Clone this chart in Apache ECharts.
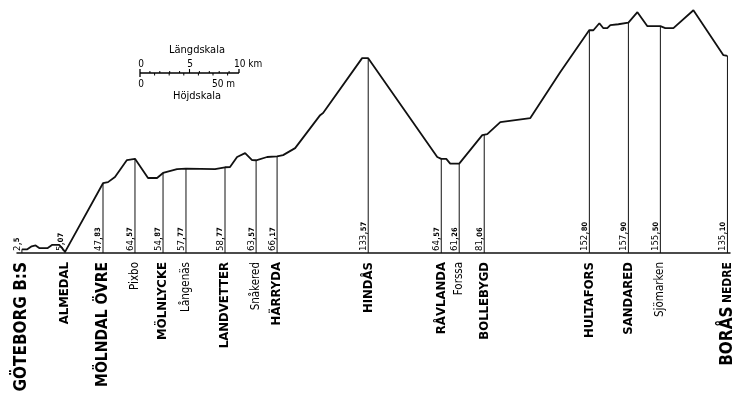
<!DOCTYPE html>
<html><head><meta charset="utf-8">
<script src="https://cdn.jsdelivr.net/npm/echarts@6/dist/echarts.min.js"></script>
<style>html,body{margin:0;padding:0;background:#fff}#c{width:750px;height:398px}</style>
</head><body><div id="c"></div>
<script>
// Stations: name, distance (km from Göteborg), elevation (m)
var stationNames = ['GÖTEBORG B:S','ALMEDAL','MÖLNDAL ÖVRE','Pixbo','MÖLNLYCKE','Långenäs','LANDVETTER','Snåkered','HÄRRYDA','HINDÅS','RÅVLANDA','Forssa','BOLLEBYGD','HULTAFORS','SANDARED','Sjömarken','BORÅS NEDRE'];
var stationKm = [0, 4.4, 8.27, 11.53, 14.39, 16.73, 20.71, 23.88, 26.02, 35.31, 42.76, 44.59, 47.14, 57.86, 61.84, 65.1, 71.94];
var stationElev = [2.5, 5.07, 47.83, 64.57, 54.87, 57.77, 58.77, 63.57, 66.17, 133.57, 64.57, 61.26, 81.06, 152.80, 157.90, 155.50, 135.10];
var stationLabels = ['2,5','5,07','47,83','64,57','54,87','57,77','58,77','63,57','66,17','133,57','64,57','61,26','81,06','152,80','157,90','155,50','135,10'];
var stationStyle = ['goteborg','main','big','small','main','small','main','small','main','main','main','small','main','main','main','small','boras'];

// Track profile: distance (km), elevation (m)
var profileKm = [0, 0.55, 1.0, 1.4, 1.8, 2.6, 3.1, 3.8, 4.1, 4.4,
  8.27, 8.78, 9.49, 10.71, 11.53, 12.86, 13.78, 14.39, 15.82, 16.73, 19.69, 20.71, 21.22, 21.94, 22.76, 23.47, 23.88, 25.0, 26.02, 26.63, 27.86, 30.41, 30.71, 34.69, 35.31,
  42.35, 42.76, 43.27, 43.67, 44.59, 46.94, 47.14, 47.45, 48.78, 51.84, 54.9, 57.86, 58.27, 58.88, 59.29, 59.69, 60.0, 60.82, 61.84, 62.76, 63.78, 65.1, 65.6, 66.43, 68.47, 71.53, 71.94];
var profileElev = [2.5, 2.5, 4.6, 5.2, 3.3, 3.3, 5.6, 5.6, 3.3, 0.8,
  47.83, 48.6, 52.1, 63.7, 64.57, 51.4, 51.4, 54.87, 57.5, 57.77, 57.5, 58.77, 58.9, 65.8, 68.5, 63.7, 63.57, 65.8, 66.17, 67.1, 71.9, 94.5, 95.9, 133.57, 133.57,
  65.8, 64.57, 64.5, 61.26, 61.26, 80.8, 81.06, 81.5, 89.7, 92.5, 124.0, 152.8, 152.7, 157.5, 154.1, 154.1, 156.2, 156.8, 157.9, 165.1, 155.5, 155.5, 154.1, 154.1, 166.4, 135.6, 135.1];

var profile = profileKm.map(function(k,i){return [k, profileElev[i]];});
function profileAt(k){
  for (var i=1;i<profileKm.length;i++){
    if (k<=profileKm[i]){
      var a=profileKm[i-1], b=profileKm[i];
      var t = b===a?1:(k-a)/(b-a);
      return profileElev[i-1]+t*(profileElev[i]-profileElev[i-1]);
    }
  }
  return profileElev[profileElev.length-1];
}
var stationData = stationKm.map(function(k,i){return [k, profileAt(k), i];});

var FONT = '"DejaVu Sans Condensed","DejaVu Sans",sans-serif';
var chart = echarts.init(document.getElementById('c'));

function nameText(i, x, y){
  var st = stationStyle[i];
  var base = {x:x, y:y, rotation:Math.PI/2, style:{fill:'#000', align:'right', verticalAlign:'middle', fontFamily:FONT}};
  if (st==='boras'){
    base.style.text = '{a|BORÅS} {b|NEDRE}';
    base.style.rich = {a:{fontSize:17,fontWeight:'bold',fontFamily:FONT}, b:{fontSize:12,fontWeight:'bold',fontFamily:FONT}};
  } else {
    base.style.text = stationNames[i];
    base.style.fontSize = st==='goteborg'?17:(st==='big'?15.5:(st==='main'?13:11.5));
    base.style.fontWeight = st==='small'?'normal':'bold';
  }
  return Object.assign({type:'text'}, base);
}
function elevText(i){
  var parts = stationLabels[i].split(',');
  return '{i|'+parts[0]+'},{d|'+parts[1]+'}';
}

chart.setOption({
  animation:false,
  grid:{left:17, right:20, top:5, bottom:145},
  xAxis:{type:'value', min:-0.5, max:72.2, axisLine:{show:true, onZero:true, lineStyle:{color:'#111', width:1.5}}, axisTick:{show:false}, axisLabel:{show:false}, splitLine:{show:false}},
  yAxis:{type:'value', min:0, max:170, show:false},
  series:[
    {type:'line', data:profile, showSymbol:false, lineStyle:{color:'#111', width:1.8}, z:3},
    {type:'custom', data:stationData, z:2,
     renderItem:function(params, api){
       var k=api.value(0), e=api.value(1), i=api.value(2);
       var p0=api.coord([k,0]), p1=api.coord([k,e]);
       return {type:'group', children:[
         {type:'line', shape:{x1:p0[0],y1:p0[1],x2:p1[0],y2:p1[1]}, style:{stroke:'#111', lineWidth:1}},
         {type:'text', x:p0[0]-4.5, y:p0[1]-2, rotation:Math.PI/2, style:{text:elevText(i), fill:'#000', align:'left', verticalAlign:'middle', fontFamily:FONT,
           rich:{i:{fontSize:9.5, fontFamily:FONT}, d:{fontSize:7.5, fontFamily:FONT, fontWeight:'bold'}}}},
         nameText(i, p0[0], p0[1]+9)
       ]};
     }}
  ],
  graphic:[
    {type:'text', x:197, y:50, style:{text:'Längdskala', fontSize:11, fontFamily:FONT, fill:'#000', align:'center', verticalAlign:'middle'}},
    {type:'text', x:141, y:64, style:{text:'0', fontSize:10, fontFamily:FONT, fill:'#000', align:'center', verticalAlign:'middle'}},
    {type:'text', x:190, y:64, style:{text:'5', fontSize:10, fontFamily:FONT, fill:'#000', align:'center', verticalAlign:'middle'}},
    {type:'text', x:234, y:64, style:{text:'10 km', fontSize:10, fontFamily:FONT, fill:'#000', align:'left', verticalAlign:'middle'}},
    {type:'line', shape:{x1:140, y1:73, x2:239, y2:73}, style:{stroke:'#000', lineWidth:1.3}},
    {type:'line', shape:{x1:140, y1:69, x2:140, y2:77}, style:{stroke:'#000', lineWidth:1.3}},
    {type:'line', shape:{x1:239, y1:69, x2:239, y2:73}, style:{stroke:'#000', lineWidth:1.3}},
    {type:'line', shape:{x1:189.5, y1:69, x2:189.5, y2:73}, style:{stroke:'#000', lineWidth:1.1}},
    {type:'text', x:141, y:84, style:{text:'0', fontSize:10, fontFamily:FONT, fill:'#000', align:'center', verticalAlign:'middle'}},
    {type:'text', x:212, y:84, style:{text:'50 m', fontSize:10, fontFamily:FONT, fill:'#000', align:'left', verticalAlign:'middle'}},
    {type:'text', x:197, y:96, style:{text:'Höjdskala', fontSize:11, fontFamily:FONT, fill:'#000', align:'center', verticalAlign:'middle'}}
  ].concat((function(){
    var a=[];
    for (var j=1;j<10;j++){ if(j!==5) a.push({type:'line', shape:{x1:140+j*9.9, y1:71, x2:140+j*9.9, y2:73}, style:{stroke:'#000', lineWidth:1}}); }
    for (var m=1;m<=6;m++){ a.push({type:'line', shape:{x1:140+m*14.6, y1:73, x2:140+m*14.6, y2:75.5}, style:{stroke:'#000', lineWidth:1}}); }
    return a;
  })())
});
</script></body></html>
